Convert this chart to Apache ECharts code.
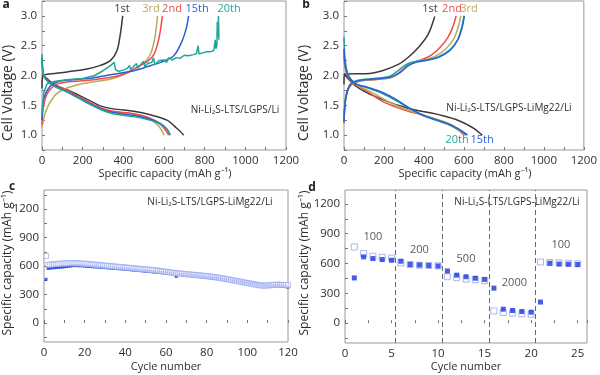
<!DOCTYPE html>
<html>
<head>
<meta charset="utf-8">
<script src="https://cdn.jsdelivr.net/npm/echarts@6/dist/echarts.min.js"></script>
<style>
  html, body { margin: 0; padding: 0; background: #fff; }
  #main { width: 600px; height: 375px; }
</style>
</head>
<body>
<div id="main"></div>
<script>
// ---- panel a: Ni-Li2S-LTS/LGPS/Li, [capacity, voltage]
var aDis1st  = [[0,2.02],[20,1.96],[60,1.85],[123,1.76],[205,1.63],[287,1.49],[350,1.44],[451,1.40],[533,1.34],[615,1.25],[664,1.11],[697,1.0]];
var aCha1st  = [[0,1.78],[4,2.0],[25,2.02],[123,2.06],[221,2.11],[287,2.17],[336,2.25],[369,2.42],[385,2.69],[397,3.0]];
var aDis2nd  = [[0,2.28],[5,2.05],[15,1.96],[50,1.86],[123,1.75],[205,1.6],[287,1.46],[350,1.40],[451,1.36],[520,1.3],[566,1.22],[600,1.12],[623,1.0]];
var aCha2nd  = [[0,1.18],[8,1.5],[30,1.72],[70,1.85],[120,1.89],[200,1.91],[300,1.95],[380,2.0],[430,2.07],[480,2.16],[520,2.24],[550,2.35],[570,2.55],[582,2.75],[592,3.0]];
var aDis3rd  = [[0,2.25],[5,2.03],[15,1.95],[50,1.85],[123,1.74],[205,1.59],[287,1.45],[350,1.39],[451,1.35],[520,1.28],[560,1.2],[585,1.1],[600,1.0]];
var aCha3rd  = [[0,1.13],[10,1.3],[25,1.45],[41,1.56],[74,1.7],[123,1.79],[180,1.85],[250,1.89],[350,1.95],[420,2.04],[470,2.14],[510,2.24],[538,2.4],[553,2.6],[562,2.8],[568,3.0]];
var aDis15th = [[0,2.3],[5,2.05],[15,1.96],[50,1.85],[123,1.73],[205,1.58],[287,1.44],[350,1.38],[451,1.33],[520,1.28],[580,1.2],[615,1.1],[631,1.0]];
var aCha15th = [[0,1.25],[8,1.6],[40,1.82],[80,1.9],[150,1.93],[250,1.96],[350,2.02],[451,2.08],[520,2.15],[582,2.22],[648,2.33],[689,2.58],[710,2.8],[721,3.0]];
var aDis20th = [[0,2.36],[5,2.05],[15,1.95],[50,1.84],[123,1.72],[205,1.57],[287,1.43],[350,1.36],[451,1.31],[520,1.26],[580,1.19],[615,1.1],[630,1.0]];
var aCha20th = [[0,1.36],[8,1.7],[25,1.86],[60,1.9],[120,1.93],[200,1.95],[260,2.0],[300,2.08],[330,2.15],[355,2.22],[362,2.1],[375,2.07],[400,2.09],[420,2.12],[430,2.17],[436,2.1],[450,2.15],[465,2.2],[470,2.12],[485,2.18],[500,2.24],[505,2.15],[520,2.2],[540,2.22],[548,2.3],[555,2.18],[575,2.25],[600,2.26],[612,2.22],[625,2.3],[640,2.26],[660,2.3],[680,2.29],[700,2.34],[720,2.33],[745,2.35],[760,2.37],[768,2.5],[772,2.36],[790,2.38],[810,2.4],[830,2.4],[845,2.42],[852,2.6],[855,2.45],[860,2.5],[862,2.9],[866,2.65],[868,3.0],[870,2.6]];

// ---- panel b: Ni-Li2S-LTS/LGPS-LiMg22/Li
var bDis1st  = [[0,2.03],[20,1.95],[60,1.82],[120,1.7],[192,1.6],[270,1.5],[356,1.42],[438,1.37],[500,1.32],[569,1.25],[620,1.17],[651,1.11],[692,1.0]];
var bCha1st  = [[0,1.85],[3,2.02],[60,2.03],[110,2.03],[192,2.08],[274,2.19],[323,2.31],[372,2.47],[421,2.69],[454,2.99]];
var bDis2nd  = [[0,2.35],[5,2.15],[20,1.98],[60,1.85],[120,1.72],[190,1.57],[260,1.47],[330,1.39],[400,1.33],[460,1.26],[520,1.18],[570,1.09],[600,1.0]];
var bCha2nd  = [[0,1.2],[8,1.6],[30,1.82],[70,1.9],[150,1.93],[230,1.96],[270,2.03],[310,2.15],[350,2.22],[400,2.28],[440,2.35],[480,2.47],[520,2.64],[545,2.82],[561,3.0]];
var bDis3rd  = [[0,2.4],[5,2.18],[20,2.0],[60,1.85],[120,1.75],[190,1.62],[260,1.5],[330,1.41],[400,1.33],[460,1.27],[520,1.2],[570,1.1],[605,1.0]];
var bCha3rd  = [[0,1.3],[8,1.62],[30,1.83],[70,1.9],[150,1.93],[230,1.96],[280,2.05],[320,2.17],[360,2.23],[410,2.27],[460,2.33],[510,2.45],[550,2.62],[572,2.82],[585,3.0]];
var bDis15th = [[0,2.45],[5,2.2],[20,2.0],[60,1.86],[120,1.8],[190,1.72],[260,1.6],[330,1.45],[400,1.33],[460,1.26],[530,1.18],[585,1.08],[618,1.0]];
var bCha15th = [[0,1.22],[8,1.6],[30,1.84],[70,1.91],[150,1.94],[230,1.97],[280,2.05],[320,2.16],[360,2.22],[410,2.25],[470,2.3],[530,2.42],[570,2.6],[592,2.82],[602,3.0]];
var bDis20th = [[0,2.65],[5,2.3],[20,2.02],[60,1.86],[120,1.79],[190,1.7],[260,1.58],[330,1.44],[400,1.32],[460,1.25],[530,1.17],[580,1.08],[610,1.0]];
var bCha20th = [[0,1.25],[8,1.62],[30,1.85],[70,1.92],[150,1.95],[230,1.99],[270,2.08],[310,2.18],[350,2.23],[410,2.26],[470,2.31],[530,2.43],[568,2.6],[590,2.82],[600,3.0]];

// ---- panel c: cycling, cycle 1..120 (mAh/g)
var cCycles = [];
for (var i = 1; i <= 120; i++) cCycles.push(i);
var cFilled = [460,575,578,580,582,584,586,588,590,592,
  595,598,600,603,605,604,603,602,601,600,
  598,596,595,593,591,590,588,586,585,583,
  581,580,578,576,575,573,571,570,568,566,
  564,562,560,558,556,554,552,550,548,546,
  544,542,540,538,536,534,532,530,528,526,
  524,522,520,518,490,515,513,511,509,507,
  505,503,500,498,495,492,489,486,483,480,
  478,476,474,472,470,468,465,462,458,455,
  452,448,445,442,438,435,432,428,425,422,
  418,414,410,406,402,398,396,395,394,393,
  392,392,393,394,395,390,388,385,382,378];
var cOpen = [705,612,614,616,618,620,622,624,625,626,
  627,628,629,629,629,628,627,626,625,624,
  622,620,618,616,614,612,610,608,606,604,
  602,600,598,596,594,592,590,588,586,584,
  582,580,578,576,574,572,570,568,566,564,
  562,560,558,556,554,551,548,545,542,539,
  536,533,530,527,524,522,520,518,516,514,
  512,510,508,506,504,502,500,498,496,494,
  491,488,485,482,479,476,473,469,465,461,
  457,453,449,445,441,437,433,429,425,421,
  417,413,409,405,401,397,395,394,394,395,
  397,399,401,403,404,403,402,401,400,399];

// ---- panel d: rate capability, cycle 1..25
var dCycles = [1,2,3,4,5,6,7,8,9,10,11,12,13,14,15,16,17,18,19,20,21,22,23,24,25];
var dFilled = [455,667,650,640,633,623,590,585,580,575,525,483,467,452,440,352,140,127,117,110,212,603,595,593,590];
var dOpen   = [767,700,673,663,655,607,590,583,580,577,467,457,443,437,427,123,107,100,93,90,615,610,607,603,597];
var dRates  = ['100','200','500','2000','100'];
var dRateX  = [3.0,8.0,13.0,18.2,23.2];
var dRateY  = [873,740,650,407,790];
var dSteps  = [5.4,10.4,15.5,20.4];

var BLACK = '#3b3b3b', RED = '#f24a45', OLIVE = '#b8ab5e', BLUE = '#2c5fd6', TEAL = '#1fa59b';
var FILL = '#1936dc', OPEN = '#93a3f0';
var FONT = 'Open Sans';
var INK = '#2e2e2e';

var chart = echarts.init(document.getElementById('main'));

function grid(l, t, w, h) {
  return { left: l, top: t, width: w, height: h, show: true, borderColor: '#9a9a9a', borderWidth: 1, backgroundColor: 'transparent' };
}
function valAxis(gi, min, max, opt) {
  var ax = {
    type: 'value', gridIndex: gi, min: min, max: max,
    axisLine: { show: false },
    axisTick: { show: true, inside: true, length: 3, lineStyle: { color: '#777' } },
    axisLabel: { color: INK, fontSize: 11.5, fontFamily: FONT, margin: 5 },
    splitLine: { show: false }
  };
  for (var k in opt) {
    if (typeof opt[k] === 'object' && ax[k]) Object.assign(ax[k], opt[k]); else ax[k] = opt[k];
  }
  return ax;
}
function every(step, lo, hi, dec) {
  return function (v) {
    var r = v / step;
    if (Math.abs(r - Math.round(r)) > 1e-6 || v < lo - 1e-6 || v > hi + 1e-6) return '';
    return dec ? v.toFixed(dec) : String(Math.round(v));
  };
}
function plain(v) { return String(v); }
function curve(data, color, idx, smooth) {
  return { type: 'line', data: data, xAxisIndex: idx, yAxisIndex: idx, symbol: 'none',
    smooth: smooth, lineStyle: { color: color, width: 1.5 }, silent: true };
}
function pairs(xs, ys) { return xs.map(function (x, i) { return [x, ys[i]]; }); }

var series = [
  curve(aDis1st, BLACK, 0, 0.3), curve(aCha1st, BLACK, 0, 0.3),
  curve(aDis3rd, OLIVE, 0, 0.3), curve(aCha3rd, OLIVE, 0, 0.3),
  curve(aDis2nd, RED, 0, 0.3), curve(aCha2nd, RED, 0, 0.3),
  curve(aDis15th, BLUE, 0, 0.3), curve(aCha15th, BLUE, 0, 0.3),
  curve(aDis20th, TEAL, 0, 0.3), curve(aCha20th, TEAL, 0, false),

  curve(bDis1st, BLACK, 1, 0.3), curve(bCha1st, BLACK, 1, 0.3),
  curve(bDis2nd, RED, 1, 0.3), curve(bCha2nd, RED, 1, 0.3),
  curve(bDis3rd, OLIVE, 1, 0.3), curve(bCha3rd, OLIVE, 1, 0.3),
  curve(bDis20th, TEAL, 1, 0.3), curve(bCha20th, TEAL, 1, 0.3),
  curve(bDis15th, BLUE, 1, 0.3), curve(bCha15th, BLUE, 1, 0.3),

  { type: 'scatter', xAxisIndex: 2, yAxisIndex: 2, data: pairs(cCycles, cFilled), symbol: 'rect', symbolSize: [3, 3],
    itemStyle: { color: FILL }, silent: true },
  { type: 'scatter', xAxisIndex: 2, yAxisIndex: 2, data: pairs(cCycles, cOpen), symbol: 'rect', symbolSize: 5,
    itemStyle: { color: 'rgba(255,255,255,0.55)', borderColor: OPEN, borderWidth: 0.8 }, silent: true },

  { type: 'scatter', xAxisIndex: 3, yAxisIndex: 3, data: pairs(dCycles, dOpen), symbol: 'rect', symbolSize: 6,
    itemStyle: { color: '#fff', borderColor: OPEN, borderWidth: 1 }, silent: true,
    markLine: { symbol: 'none', silent: true, label: { show: false },
      lineStyle: { type: [5, 3], color: '#666', width: 1 },
      data: dSteps.map(function (v) { return { xAxis: v }; }) } },
  { type: 'scatter', xAxisIndex: 3, yAxisIndex: 3, data: pairs(dCycles, dFilled), symbol: 'rect', symbolSize: 5,
    itemStyle: { color: FILL }, silent: true },
  { type: 'scatter', xAxisIndex: 3, yAxisIndex: 3, symbolSize: 0, silent: true,
    data: dRates.map(function (t, i) { return { value: [dRateX[i], dRateY[i]], name: t }; }),
    label: { show: true, position: 'inside', formatter: '{b}', color: INK, fontSize: 11, fontFamily: FONT } }
];

function txt(x, y, s, color, size, extra) {
  var o = { type: 'text', x: x, y: y, silent: true,
    style: { text: s, fill: color || INK, fontSize: size || 11, fontFamily: FONT, align: 'center', verticalAlign: 'middle' } };
  if (extra) Object.assign(o, extra);
  return o;
}
function letter(x, y, s) {
  return { type: 'text', x: x, y: y, silent: true,
    style: { text: s, fill: '#222', fontSize: 12, fontWeight: 'bold', fontFamily: FONT, align: 'center', verticalAlign: 'middle' } };
}
var rot = { rotation: Math.PI / 2 };

chart.setOption({
  animation: false,
  grid: [grid(42, 1, 244, 149), grid(344, 1, 244, 149), grid(44, 190, 244, 152), grid(345, 190, 242, 153)],
  xAxis: [
    valAxis(0, 0, 1200, { interval: 100, axisLabel: { formatter: every(200, 0, 1200) } }),
    valAxis(1, 0, 1200, { interval: 100, axisLabel: { formatter: every(200, 0, 1200) } }),
    valAxis(2, 0, 120, { interval: 10, axisLabel: { formatter: every(20, 0, 120) } }),
    valAxis(3, 0, 26, { interval: 2.5, axisLabel: { formatter: every(5, 0, 25) } })
  ],
  yAxis: [
    valAxis(0, 0.75, 3.25, { interval: 0.25, axisLabel: { formatter: every(0.5, 1, 3, 1) } }),
    valAxis(1, 0.75, 3.25, { interval: 0.25, axisLabel: { formatter: every(0.5, 1, 3, 1) } }),
    valAxis(2, -200, 1400, { axisTick: { customValues: [-150,0,150,300,450,600,750,900,1050,1200,1350] },
      axisLabel: { customValues: [0,300,600,900,1200], formatter: plain } }),
    valAxis(3, -200, 1340, { axisTick: { customValues: [-150,0,150,300,450,600,750,900,1050,1200] },
      axisLabel: { customValues: [0,300,600,900,1200], formatter: plain } })
  ],
  series: series,
  graphic: [
    letter(6, 5, 'a'), letter(306, 5, 'b'), letter(12, 187, 'c'), letter(312, 188, 'd'),

    txt(122, 9, '1st', BLACK, 11), txt(151, 9, '3rd', OLIVE, 11), txt(172, 9, '2nd', RED, 11),
    txt(197, 9, '15th', BLUE, 11), txt(229, 9, '20th', TEAL, 11),
    txt(235, 110, 'Ni-Li\u2082S-LTS/LGPS/Li', INK, 10),

    txt(430, 9, '1st', BLACK, 11), txt(452, 9, '2nd', RED, 11), txt(469, 9, '3rd', OLIVE, 11),
    txt(457, 140, '20th', TEAL, 11), txt(482, 140, '15th', BLUE, 11),
    txt(509, 108, 'Ni-Li\u2082S-LTS/LGPS-LiMg22/Li', INK, 10),

    txt(210, 202, 'Ni-Li\u2082S-LTS/LGPS-LiMg22/Li', INK, 10),
    txt(517, 202, 'Ni-Li\u2082S-LTS/LGPS-LiMg22/Li', INK, 10),

    txt(8, 93, 'Cell Voltage (V)', INK, 14, rot),
    txt(304, 93, 'Cell Voltage (V)', INK, 14, rot),
    txt(8, 263, 'Specific capacity (mAh g\u207B\u00B9)', INK, 12, rot),
    txt(305, 263, 'Specific capacity (mAh g\u207B\u00B9)', INK, 12, rot),

    txt(165, 174, 'Specific capacity (mAh g\u207B\u00B9)', INK, 11),
    txt(465, 174, 'Specific capacity (mAh g\u207B\u00B9)', INK, 11),
    txt(166, 367, 'Cycle number', INK, 11),
    txt(466, 367, 'Cycle number', INK, 11)
  ]
});
</script>
</body>
</html>
